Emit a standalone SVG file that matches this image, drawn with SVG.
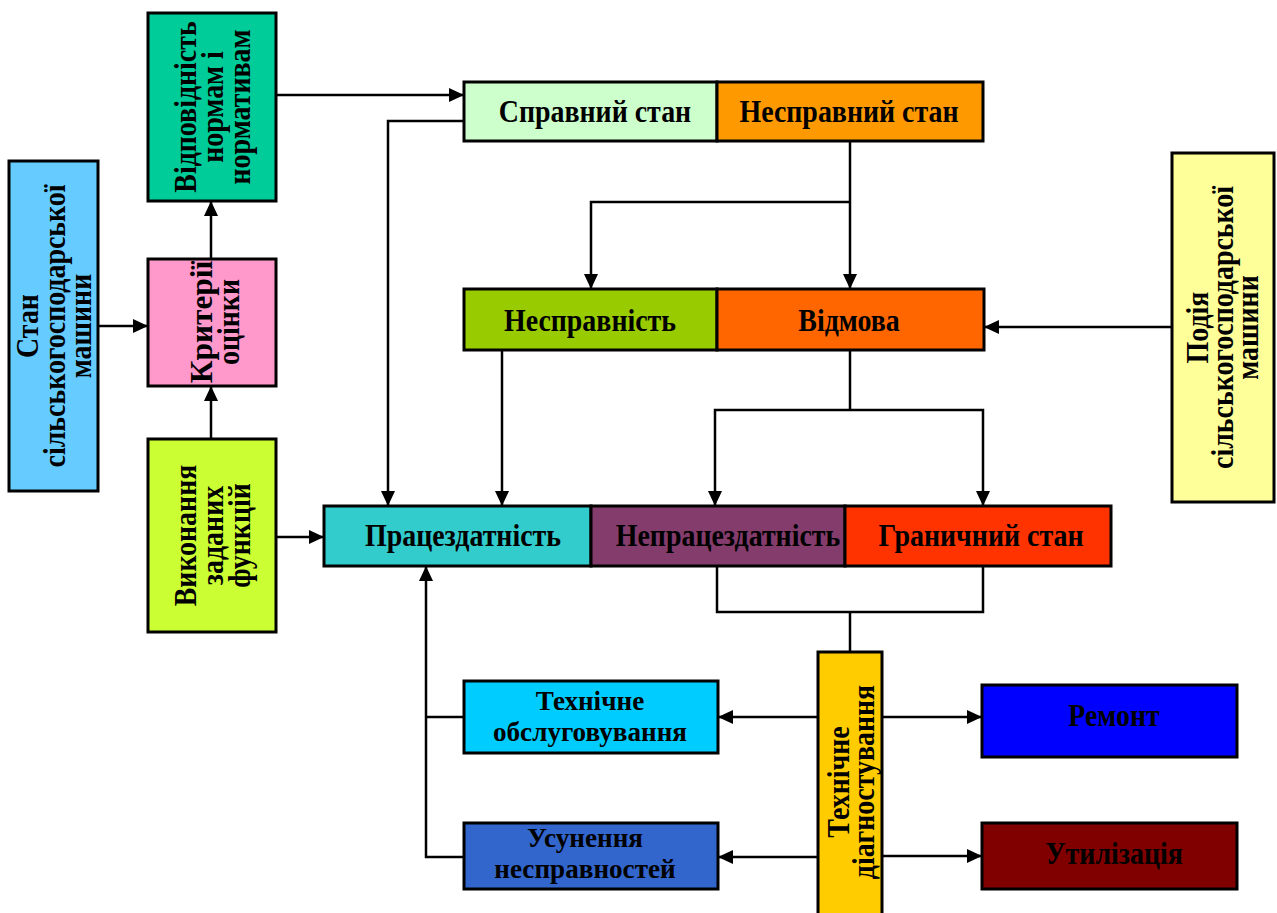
<svg xmlns="http://www.w3.org/2000/svg" width="1277" height="913" viewBox="0 0 1277 913">
<defs>
<marker id="ah" markerUnits="userSpaceOnUse" markerWidth="16" markerHeight="14" refX="15" refY="7" orient="auto">
<path d="M0,0 L15,7 L0,14 z" fill="#000"/>
</marker>
<clipPath id="clipKrit"><rect x="148" y="259" width="128" height="127"/></clipPath>
</defs>
<style>
.box{stroke:#000;stroke-width:3}
.t{font-family:"Liberation Serif","Times New Roman",serif;font-weight:bold;font-size:31px;fill:#000;text-anchor:middle}
.t2{font-size:28px}
.c{fill:none;stroke:#000;stroke-width:2.5}
.a{marker-end:url(#ah)}
</style>
<rect width="1277" height="913" fill="#fff"/>

<g id="connectors">
<path class="c a" d="M98,326 H148"/>
<path class="c a" d="M211,439 V386"/>
<path class="c a" d="M211,259 V201"/>
<path class="c a" d="M276,95 H464"/>
<path class="c a" d="M464,121 H388 V506"/>
<path class="c a" d="M850,141 V289"/>
<path class="c a" d="M850,202 H591 V289"/>
<path class="c a" d="M1172,327 H984"/>
<path class="c a" d="M502,350 V506"/>
<path class="c" d="M850,350 V410"/>
<path class="c a" d="M850,410 H715 V506"/>
<path class="c a" d="M850,410 H983 V506"/>
<path class="c a" d="M276,537 H324"/>
<path class="c" d="M717,566 V612 H983 V566"/>
<path class="c" d="M850,612 V652"/>
<path class="c a" d="M818,717 H718"/>
<path class="c a" d="M818,857 H718"/>
<path class="c a" d="M882,717 H982"/>
<path class="c a" d="M882,856 H982"/>
<path class="c a" d="M464,857 H426 V566"/>
<path class="c" d="M464,717 H426"/>
</g>

<g id="stan">
<rect class="box" x="9" y="161" width="89" height="330" fill="#66CCFF"/>
<g transform="translate(53.5,326) rotate(-90) scale(0.9,1)"><text class="t"><tspan x="0" y="-16">Стан</tspan><tspan x="0" y="11">сільськогосподарської</tspan><tspan x="0" y="38">машини</tspan></text></g>
</g>

<g id="vidpovidnist">
<rect class="box" x="148" y="13" width="128" height="188" fill="#00CC99"/>
<g transform="translate(212,107) rotate(-90) scale(0.9,1)"><text class="t"><tspan x="0" y="-16">Відповідність</tspan><tspan x="0" y="11">нормам і</tspan><tspan x="0" y="38">нормативам</tspan></text></g>
</g>

<g id="kryterii">
<rect class="box" x="148" y="259" width="128" height="127" fill="#FF99CC"/>
<g clip-path="url(#clipKrit)"><g transform="translate(214,322) rotate(-90) scale(0.9,1)"><text class="t"><tspan x="0" y="-2.5" textLength="136" lengthAdjust="spacingAndGlyphs">Критерії</tspan><tspan x="0" y="24.5">оцінки</tspan></text></g></g>
</g>

<g id="vykonannia">
<rect class="box" x="148" y="439" width="128" height="193" fill="#CCFF33"/>
<g transform="translate(212,535.5) rotate(-90) scale(0.9,1)"><text class="t"><tspan x="0" y="-16">Виконання</tspan><tspan x="0" y="11">заданих</tspan><tspan x="0" y="38">функцій</tspan></text></g>
</g>

<g id="spravnyi">
<rect class="box" x="464" y="82" width="253" height="59" fill="#CCFFCC"/>
<g transform="translate(595,122) scale(0.9,1)"><text class="t">Справний стан</text></g>
</g>

<g id="nespravnyi">
<rect class="box" x="717" y="82" width="266" height="59" fill="#FF9900"/>
<g transform="translate(849,122) scale(0.9,1)"><text class="t">Несправний стан</text></g>
</g>

<g id="nespravnist">
<rect class="box" x="464" y="289" width="253" height="61" fill="#99CC00"/>
<g transform="translate(590,331) scale(0.9,1)"><text class="t">Несправність</text></g>
</g>

<g id="vidmova">
<rect class="box" x="717" y="289" width="267" height="61" fill="#FF6600"/>
<g transform="translate(849,331) scale(0.9,1)"><text class="t">Відмова</text></g>
</g>

<g id="podiia">
<rect class="box" x="1172" y="153" width="102" height="349" fill="#FFFF99"/>
<g transform="translate(1222,327.5) rotate(-90) scale(0.9,1)"><text class="t"><tspan x="0" y="-14">Подія</tspan><tspan x="0" y="11">сільськогосподарської</tspan><tspan x="0" y="36">машини</tspan></text></g>
</g>

<g id="pratsezdatnist">
<rect class="box" x="324" y="506" width="267" height="60" fill="#33CCCC"/>
<g transform="translate(463,546) scale(0.9,1)"><text class="t">Працездатність</text></g>
</g>

<g id="nepratsezdatnist">
<rect class="box" x="591" y="506" width="254" height="60" fill="#843C6C"/>
<g transform="translate(728,546) scale(0.9,1)"><text class="t">Непрацездатність</text></g>
</g>

<g id="granychnyi">
<rect class="box" x="845" y="506" width="266" height="60" fill="#FF3300"/>
<g transform="translate(981,546) scale(0.9,1)"><text class="t">Граничний стан</text></g>
</g>

<g id="tekh_obsl">
<rect class="box" x="464" y="681" width="254" height="72" fill="#00CCFF"/>
<g transform="translate(590,0) scale(0.97,1)"><text class="t t2"><tspan x="0" y="710">Технічне</tspan><tspan x="0" y="741">обслуговування</tspan></text></g>
</g>

<g id="usunennia">
<rect class="box" x="464" y="823" width="254" height="66" fill="#3366CC"/>
<g transform="translate(585,0) scale(0.97,1)"><text class="t t2"><tspan x="0" y="847">Усунення</tspan><tspan x="0" y="878">несправностей</tspan></text></g>
</g>

<g id="tekh_diagn">
<rect class="box" x="818" y="652" width="64" height="266" fill="#FFCC00"/>
<g transform="translate(850,782) rotate(-90) scale(0.9,1)"><text class="t"><tspan x="0" y="-1.5">Технічне</tspan><tspan x="0" y="23.5">діагностування</tspan></text></g>
</g>

<g id="remont">
<rect class="box" x="982" y="685" width="255" height="72" fill="#0000FF"/>
<g transform="translate(1114,726) scale(0.9,1)"><text class="t">Ремонт</text></g>
</g>

<g id="utylizatsiia">
<rect class="box" x="982" y="823" width="255" height="66" fill="#800000"/>
<g transform="translate(1114,864) scale(0.9,1)"><text class="t">Утилізація</text></g>
</g>
</svg>
